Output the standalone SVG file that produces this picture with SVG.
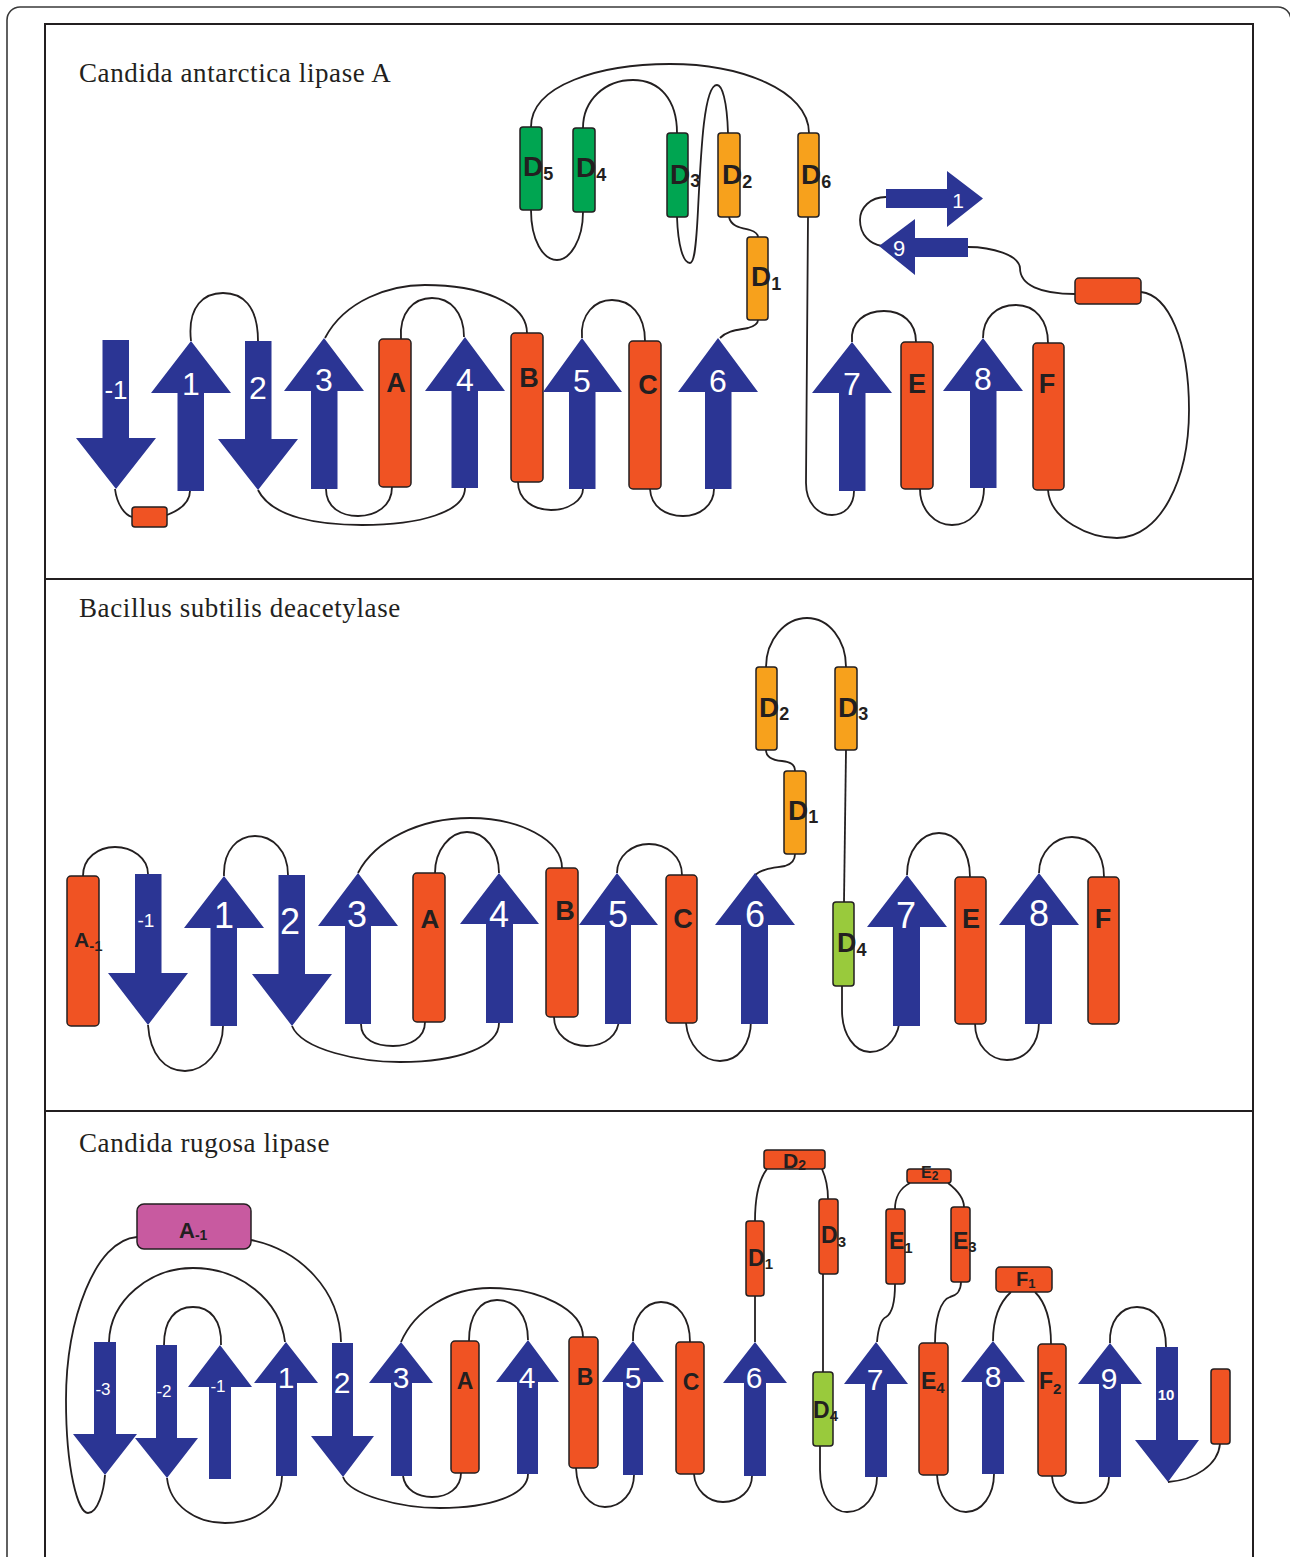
<svg xmlns="http://www.w3.org/2000/svg" width="1290" height="1557" viewBox="0 0 1290 1557">
<style>
.frame{fill:none;stroke:#3a3a3a;stroke-width:1.6}
.inner{fill:none;stroke:#231f20;stroke-width:2}
.t{font-family:"Liberation Serif",serif;font-size:27px;fill:#231f20;letter-spacing:0.6px}
.s{fill:#2b3594}
.h{stroke:#231f20;stroke-width:1.5}
.r{fill:#f05323}
.o{fill:#f7a11c}
.g{fill:#00a551}
.lg{fill:#99ca3c}
.m{fill:#c85aa0}
.c path{fill:none;stroke:#231f20;stroke-width:1.8}
.n{font-family:"Liberation Sans",Arial,sans-serif;fill:#fff;text-anchor:middle}
.hl{font-family:"Liberation Sans",Arial,sans-serif;font-weight:bold;fill:#231f20}
.mid{text-anchor:middle}
</style>
<rect class="frame" x="7" y="7" width="1284" height="1600" rx="13"/>
<rect class="inner" x="45" y="24" width="1208" height="1600"/>
<line class="inner" x1="45" y1="579" x2="1253" y2="579"/>
<line class="inner" x1="45" y1="1111" x2="1253" y2="1111"/>
<text class="t" x="79" y="82">Candida antarctica lipase A</text>
<text class="t" x="79" y="617">Bacillus subtilis deacetylase</text>
<text class="t" x="79" y="1152">Candida rugosa lipase</text>

<g id="connectors" class="c">
<g id="c1">
<path d="M115,489 C117,505 125,515 132,517"/>
<path d="M167,515 C180,510 190,503 190,491"/>
<path d="M191,341 C187,305 205,293 223,293 C242,293 258,305 258,341"/>
<path d="M258,490 C272,518 320,525 362,525 C420,525 465,512 465,488"/>
<path d="M326,489 C326,508 342,516 358,516 C376,516 392,506 392,487"/>
<path d="M325,338 C345,300 390,285 425,285 C478,285 527,302 527,333"/>
<path d="M401,339 C399,312 414,298 432,298 C450,298 464,312 464,337"/>
<path d="M518,482 C518,500 534,510 551,510 C569,510 583,500 583,489"/>
<path d="M582,338 C580,314 595,300 612,300 C630,300 645,314 645,341"/>
<path d="M650,489 C651,507 666,516 683,516 C700,516 714,505 714,489"/>
<path d="M720,338 C728,330 738,330 748,328 C755,326 758,323 758,320"/>
<path d="M729,217 C731,227 742,228 750,230 C756,232 758,234 758,237"/>
<path d="M728,133 C727,100 722,85 717,85 C704,85 701,150 698,210 C696,250 694,263 690,263 C683,263 678,245 677,217"/>
<path d="M677,133 C677,100 660,80 633,80 C605,80 583,100 583,128"/>
<path d="M583,212 C583,240 570,260 557,260 C543,260 531,240 531,210"/>
<path d="M531,127 C531,85 600,64 670,64 C740,64 809,90 809,133"/>
<path d="M808,217 L806,483 C806,503 818,515 832,515 C845,515 854,505 854,491"/>
<path d="M852,342 C850,322 865,311 884,311 C902,311 916,322 916,342"/>
<path d="M920,489 C920,510 935,525 952,525 C970,525 984,510 984,488"/>
<path d="M983,338 C983,318 996,305 1016,305 C1035,305 1048,320 1048,343"/>
<path d="M1048,490 C1050,520 1090,538 1117,538 C1160,538 1189,480 1189,410 C1189,340 1168,295 1141,292"/>
<path d="M1075,294 C1040,294 1020,285 1020,268 C1019,255 992,247 968,247"/>
<path d="M886,197 C870,197 860,208 860,220 C860,235 870,244 882,246"/>
</g>
<g id="c2">
<path d="M83,876 C83,858 98,847 115,847 C132,847 148,858 148,874"/>
<path d="M148,1025 C150,1055 165,1071 185,1071 C205,1071 223,1050 223,1026"/>
<path d="M224,876 C223,850 238,836 255,836 C272,836 288,850 288,875"/>
<path d="M292,1026 C302,1050 360,1062 400,1062 C460,1062 499,1046 499,1023"/>
<path d="M361,1024 C361,1040 376,1046 393,1046 C410,1046 425,1038 425,1022"/>
<path d="M358,873 C375,840 420,818 470,818 C520,818 562,840 562,868"/>
<path d="M435,873 C435,850 450,832 467,832 C485,832 499,850 499,873"/>
<path d="M554,1017 C554,1035 570,1046 587,1046 C605,1046 619,1035 619,1018"/>
<path d="M617,873 C617,856 632,844 649,844 C666,844 682,856 682,875"/>
<path d="M686,1023 C688,1045 703,1061 720,1061 C738,1061 751,1045 751,1020"/>
<path d="M755,875 C763,868 775,868 785,866 C792,864 795,860 795,854"/>
<path d="M795,771 C795,764 790,762 782,761 C770,760 766,755 766,750"/>
<path d="M766,667 C766,640 785,618 807,618 C829,618 846,640 846,667"/>
<path d="M846,750 L844,902"/>
<path d="M842,986 L842,1010 C842,1035 855,1052 870,1052 C888,1052 900,1035 900,1015"/>
<path d="M907,875 C907,850 922,833 939,833 C956,833 970,850 970,877"/>
<path d="M975,1023 C975,1045 990,1060 1007,1060 C1025,1060 1039,1045 1039,1022"/>
<path d="M1039,873 C1039,852 1055,837 1072,837 C1090,837 1104,852 1104,877"/>
</g>
<g id="c3">
<path d="M137,1237 C95,1240 66,1320 66,1400 C66,1470 78,1513 88,1513 C98,1513 104,1490 105,1475"/>
<path d="M251,1240 C300,1250 340,1290 341,1342"/>
<path d="M109,1342 C110,1300 150,1268 193,1268 C240,1268 280,1300 285,1342"/>
<path d="M164,1345 C164,1320 175,1307 193,1307 C210,1307 222,1320 221,1345"/>
<path d="M167,1478 C170,1505 195,1523 225,1523 C258,1523 281,1505 282,1476"/>
<path d="M403,1476 C405,1490 418,1497 432,1497 C448,1497 461,1488 461,1473"/>
<path d="M343,1477 C350,1495 400,1508 440,1508 C490,1508 528,1495 528,1474"/>
<path d="M401,1342 C415,1310 450,1288 490,1288 C540,1288 583,1310 583,1337"/>
<path d="M469,1341 C469,1315 480,1300 497,1300 C515,1300 528,1315 528,1340"/>
<path d="M576,1468 C577,1492 590,1507 605,1507 C622,1507 634,1492 634,1475"/>
<path d="M633,1341 C632,1318 645,1302 661,1302 C678,1302 690,1318 690,1342"/>
<path d="M694,1474 C695,1490 708,1502 723,1502 C740,1502 752,1490 752,1476"/>
<path d="M755,1342 L755,1296"/>
<path d="M755,1221 C755,1195 760,1178 767,1169"/>
<path d="M822,1169 C826,1178 828,1188 828,1199"/>
<path d="M823,1274 L823,1372"/>
<path d="M820,1446 L820,1470 C820,1495 832,1512 847,1512 C865,1512 877,1495 877,1477"/>
<path d="M877,1342 C878,1330 880,1320 886,1317 C893,1313 895,1300 895,1284"/>
<path d="M895,1209 C895,1198 900,1188 910,1183"/>
<path d="M948,1183 C957,1190 964,1198 964,1207"/>
<path d="M961,1282 C961,1292 955,1296 950,1297 C940,1300 935,1320 935,1343"/>
<path d="M937,1475 C938,1495 950,1512 966,1512 C982,1512 994,1495 994,1474"/>
<path d="M993,1341 C993,1318 1000,1302 1011,1292"/>
<path d="M1035,1292 C1045,1302 1051,1320 1051,1344"/>
<path d="M1052,1476 C1053,1492 1065,1503 1080,1503 C1097,1503 1109,1492 1109,1477"/>
<path d="M1110,1343 C1109,1322 1120,1307 1137,1307 C1155,1307 1166,1322 1166,1347"/>
<path d="M1168,1482 C1195,1480 1218,1465 1220,1444"/>
</g>
</g>

<!-- Panel 1 -->
<g id="p1-sm1"><rect class="h r" x="132" y="507" width="35" height="20" rx="3"/></g>
<g id="p1-s-1"><polygon class="s" points="102.5,340 129,340 129,438 156,438 116,489 76,438 102.5,438"/><text class="n" x="116" y="399" font-size="26">-1</text></g>
<g id="p1-s1"><polygon class="s" points="191,341 231,393 204,393 204,491 177.5,491 177.5,393 151,393"/><text class="n" x="191" y="395" font-size="32">1</text></g>
<g id="p1-s2"><polygon class="s" points="245,341 271.5,341 271.5,439 298,439 258,490 218,439 245,439"/><text class="n" x="258" y="399" font-size="32">2</text></g>
<g id="p1-s3"><polygon class="s" points="324,338 364,391 337.5,391 337.5,489 311,489 311,391 284,391"/><text class="n" x="324" y="391" font-size="32">3</text></g>
<g id="p1-A"><rect class="h r" x="379" y="339" width="32" height="148" rx="4"/><text class="hl mid" x="396" y="392" font-size="27">A</text></g>
<g id="p1-s4"><polygon class="s" points="465,337 505,391 478,391 478,488 451.5,488 451.5,391 425,391"/><text class="n" x="465" y="391" font-size="32">4</text></g>
<g id="p1-B"><rect class="h r" x="511" y="333" width="32" height="149" rx="4"/><text class="hl mid" x="529" y="387" font-size="27">B</text></g>
<g id="p1-s5"><polygon class="s" points="582,338 622,392 595.5,392 595.5,489 569,489 569,392 543,392"/><text class="n" x="582" y="392" font-size="32">5</text></g>
<g id="p1-C"><rect class="h r" x="629" y="341" width="32" height="148" rx="4"/><text class="hl mid" x="648" y="394" font-size="27">C</text></g>
<g id="p1-s6"><polygon class="s" points="718,338 758,392 731.5,392 731.5,489 705,489 705,392 678,392"/><text class="n" x="718" y="392" font-size="32">6</text></g>
<g id="p1-D1"><rect class="h o" x="747" y="237" width="21" height="83" rx="3"/><text class="hl" x="751" y="286" font-size="28">D<tspan font-size="18" dy="4">1</tspan></text></g>
<g id="p1-D2"><rect class="h o" x="718" y="133" width="22" height="84" rx="3"/><text class="hl" x="722" y="184" font-size="28">D<tspan font-size="18" dy="4">2</tspan></text></g>
<g id="p1-D3"><rect class="h g" x="667" y="133" width="21" height="84" rx="3"/><text class="hl" x="670" y="184" font-size="28">D<tspan font-size="18" dy="3">3</tspan></text></g>
<g id="p1-D4"><rect class="h g" x="573" y="128" width="22" height="84" rx="3"/><text class="hl" x="576" y="177" font-size="28">D<tspan font-size="18" dy="4">4</tspan></text></g>
<g id="p1-D5"><rect class="h g" x="520" y="127" width="22" height="83" rx="3"/><text class="hl" x="523" y="176" font-size="28">D<tspan font-size="18" dy="4">5</tspan></text></g>
<g id="p1-D6"><rect class="h o" x="798" y="133" width="21" height="84" rx="3"/><text class="hl" x="801" y="184" font-size="28">D<tspan font-size="18" dy="4">6</tspan></text></g>
<g id="p1-s7"><polygon class="s" points="852,342 892,393 865.5,393 865.5,491 839,491 839,393 812,393"/><text class="n" x="852" y="395" font-size="32">7</text></g>
<g id="p1-E"><rect class="h r" x="901" y="342" width="32" height="147" rx="4"/><text class="hl mid" x="917" y="393" font-size="27">E</text></g>
<g id="p1-s8"><polygon class="s" points="983,338 1023,391 996.5,391 996.5,488 970,488 970,391 943,391"/><text class="n" x="983" y="390" font-size="32">8</text></g>
<g id="p1-F"><rect class="h r" x="1033" y="343" width="31" height="147" rx="4"/><text class="hl mid" x="1047" y="393" font-size="27">F</text></g>
<g id="p1-sm2"><rect class="h r" x="1075" y="278" width="66" height="26" rx="4"/></g>
<g id="p1-s1h"><polygon class="s" points="886,189 947,189 947,171 983,198.5 947,227 947,208 886,208"/><text class="n" x="958" y="208" font-size="21">1</text></g>
<g id="p1-s9h"><polygon class="s" points="968,238 968,257 915,257 915,275 879,246 915,219 915,238"/><text class="n" x="899" y="256" font-size="22">9</text></g>

<!-- Panel 2 -->
<g id="p2-A-1"><rect class="h r" x="67" y="876" width="32" height="150" rx="4"/><text class="hl" x="74" y="947" font-size="21">A<tspan font-size="15" dy="4">-1</tspan></text></g>
<g id="p2-s-1"><polygon class="s" points="135,874 161.5,874 161.5,973 188,973 148,1025 108,973 135,973"/><text class="n" x="146" y="927" font-size="19">-1</text></g>
<g id="p2-s1"><polygon class="s" points="224,876 264,928 237,928 237,1026 210.5,1026 210.5,928 184,928"/><text class="n" x="224" y="928" font-size="36">1</text></g>
<g id="p2-s2"><polygon class="s" points="278.5,875 305,875 305,974 332,974 292,1026 252,974 278.5,974"/><text class="n" x="290" y="934" font-size="36">2</text></g>
<g id="p2-s3"><polygon class="s" points="358,873 398,926 371,926 371,1024 345,1024 345,926 318,926"/><text class="n" x="357" y="927" font-size="36">3</text></g>
<g id="p2-A"><rect class="h r" x="413" y="873" width="32" height="149" rx="4"/><text class="hl mid" x="430" y="928" font-size="26">A</text></g>
<g id="p2-s4"><polygon class="s" points="499,873 539,924 513,924 513,1023 486,1023 486,924 460,924"/><text class="n" x="499" y="927" font-size="36">4</text></g>
<g id="p2-B"><rect class="h r" x="546" y="868" width="32" height="149" rx="4"/><text class="hl mid" x="565" y="920" font-size="27">B</text></g>
<g id="p2-s5"><polygon class="s" points="617,873 658,925 631,925 631,1024 605,1024 605,925 579,925"/><text class="n" x="618" y="927" font-size="36">5</text></g>
<g id="p2-C"><rect class="h r" x="666" y="875" width="31" height="148" rx="4"/><text class="hl mid" x="683" y="928" font-size="27">C</text></g>
<g id="p2-s6"><polygon class="s" points="755,873 795,925 768,925 768,1024 741,1024 741,925 715,925"/><text class="n" x="755" y="927" font-size="36">6</text></g>
<g id="p2-D1"><rect class="h o" x="784" y="771" width="22" height="83" rx="3"/><text class="hl" x="788" y="820" font-size="28">D<tspan font-size="18" dy="3">1</tspan></text></g>
<g id="p2-D2"><rect class="h o" x="756" y="667" width="21" height="83" rx="3"/><text class="hl" x="759" y="717" font-size="28">D<tspan font-size="18" dy="3">2</tspan></text></g>
<g id="p2-D3"><rect class="h o" x="835" y="667" width="22" height="83" rx="3"/><text class="hl" x="838" y="717" font-size="28">D<tspan font-size="18" dy="3">3</tspan></text></g>
<g id="p2-D4"><rect class="h lg" x="833" y="902" width="21" height="84" rx="3"/><text class="hl" x="837" y="952" font-size="27">D<tspan font-size="18" dy="4">4</tspan></text></g>
<g id="p2-s7"><polygon class="s" points="907,875 947,927 920,927 920,1026 893,1026 893,927 867,927"/><text class="n" x="906" y="928" font-size="36">7</text></g>
<g id="p2-E"><rect class="h r" x="955" y="877" width="31" height="147" rx="4"/><text class="hl mid" x="971" y="928" font-size="27">E</text></g>
<g id="p2-s8"><polygon class="s" points="1039,873 1079,925 1052,925 1052,1024 1025,1024 1025,925 999,925"/><text class="n" x="1039" y="926" font-size="36">8</text></g>
<g id="p2-F"><rect class="h r" x="1088" y="877" width="31" height="147" rx="4"/><text class="hl mid" x="1103" y="928" font-size="27">F</text></g>

<!-- Panel 3 -->
<g id="p3-A-1"><rect class="h m" x="137" y="1204" width="114" height="45" rx="7"/><text class="hl" x="179" y="1238" font-size="22">A<tspan font-size="14" dy="2">-1</tspan></text></g>
<g id="p3-s-3"><polygon class="s" points="94,1342 116,1342 116,1434 137,1434 105,1475 73,1434 94,1434"/><text class="n" x="103" y="1395" font-size="17">-3</text></g>
<g id="p3-s-2"><polygon class="s" points="156,1345 177,1345 177,1438 198,1438 167,1478 135,1438 156,1438"/><text class="n" x="164" y="1397" font-size="17">-2</text></g>
<g id="p3-s-1"><polygon class="s" points="220,1345 252,1387 231,1387 231,1479 209,1479 209,1387 188,1387"/><text class="n" x="218" y="1392" font-size="17">-1</text></g>
<g id="p3-s1"><polygon class="s" points="286,1342 318,1383 297,1383 297,1476 276,1476 276,1383 254,1383"/><text class="n" x="286" y="1388" font-size="30">1</text></g>
<g id="p3-s2"><polygon class="s" points="332,1343 353,1343 353,1436 374,1436 343,1477 311,1436 332,1436"/><text class="n" x="342" y="1393" font-size="30">2</text></g>
<g id="p3-s3"><polygon class="s" points="401,1342 433,1383 412,1383 412,1476 391,1476 391,1383 369,1383"/><text class="n" x="401" y="1388" font-size="30">3</text></g>
<g id="p3-A"><rect class="h r" x="451" y="1341" width="28" height="132" rx="4"/><text class="hl mid" x="465" y="1389" font-size="23">A</text></g>
<g id="p3-s4"><polygon class="s" points="528,1340 559,1382 538,1382 538,1474 517,1474 517,1382 496,1382"/><text class="n" x="527" y="1388" font-size="30">4</text></g>
<g id="p3-B"><rect class="h r" x="569" y="1337" width="29" height="131" rx="4"/><text class="hl mid" x="585" y="1385" font-size="23">B</text></g>
<g id="p3-s5"><polygon class="s" points="633,1341 664,1382 643,1382 643,1475 623,1475 623,1382 602,1382"/><text class="n" x="633" y="1388" font-size="30">5</text></g>
<g id="p3-C"><rect class="h r" x="676" y="1342" width="28" height="132" rx="4"/><text class="hl mid" x="691" y="1390" font-size="23">C</text></g>
<g id="p3-s6"><polygon class="s" points="755,1342 787,1383 766,1383 766,1476 744,1476 744,1383 723,1383"/><text class="n" x="754" y="1388" font-size="30">6</text></g>
<g id="p3-D1"><rect class="h r" x="746" y="1221" width="18" height="75" rx="3"/><text class="hl" x="748" y="1266" font-size="23">D<tspan font-size="15" dy="3">1</tspan></text></g>
<g id="p3-D2"><rect class="h r" x="764" y="1150" width="61" height="19" rx="3"/><text class="hl" x="783" y="1168" font-size="21">D<tspan font-size="14" dy="2">2</tspan></text></g>
<g id="p3-D3"><rect class="h r" x="819" y="1199" width="19" height="75" rx="3"/><text class="hl" x="821" y="1243" font-size="23">D<tspan font-size="15" dy="4">3</tspan></text></g>
<g id="p3-D4"><rect class="h lg" x="813" y="1372" width="20" height="74" rx="3"/><text class="hl" x="813" y="1418" font-size="23">D<tspan font-size="15" dy="3">4</tspan></text></g>
<g id="p3-s7"><polygon class="s" points="876,1342 908,1384 887,1384 887,1477 865,1477 865,1384 844,1384"/><text class="n" x="875" y="1390" font-size="30">7</text></g>
<g id="p3-E1"><rect class="h r" x="886" y="1209" width="19" height="75" rx="3"/><text class="hl" x="889" y="1249" font-size="23">E<tspan font-size="15" dy="4">1</tspan></text></g>
<g id="p3-E2"><rect class="h r" x="907" y="1169" width="44" height="14" rx="3"/><text class="hl" x="921" y="1178" font-size="16">E<tspan font-size="12" dy="2">2</tspan></text></g>
<g id="p3-E3"><rect class="h r" x="951" y="1207" width="19" height="75" rx="3"/><text class="hl" x="953" y="1249" font-size="23">E<tspan font-size="15" dy="3">3</tspan></text></g>
<g id="p3-E4"><rect class="h r" x="919" y="1343" width="29" height="132" rx="4"/><text class="hl" x="921" y="1389" font-size="23">E<tspan font-size="15" dy="4">4</tspan></text></g>
<g id="p3-s8"><polygon class="s" points="993,1341 1025,1382 1004,1382 1004,1474 982,1474 982,1382 961,1382"/><text class="n" x="993" y="1387" font-size="30">8</text></g>
<g id="p3-F1"><rect class="h r" x="996" y="1267" width="56" height="25" rx="4"/><text class="hl" x="1016" y="1286" font-size="20">F<tspan font-size="13" dy="2">1</tspan></text></g>
<g id="p3-F2"><rect class="h r" x="1038" y="1344" width="28" height="132" rx="4"/><text class="hl" x="1039" y="1389" font-size="23">F<tspan font-size="15" dy="5">2</tspan></text></g>
<g id="p3-s9"><polygon class="s" points="1110,1343 1142,1384 1121,1384 1121,1477 1099,1477 1099,1384 1078,1384"/><text class="n" x="1109" y="1389" font-size="30">9</text></g>
<g id="p3-s10"><polygon class="s" points="1156,1347 1178,1347 1178,1440 1199,1440 1168,1482 1135,1440 1156,1440"/><text class="n" x="1166" y="1400" font-size="15" font-weight="bold">10</text></g>
<g id="p3-sm"><rect class="h r" x="1211" y="1369" width="19" height="75" rx="3"/></g>
</svg>
